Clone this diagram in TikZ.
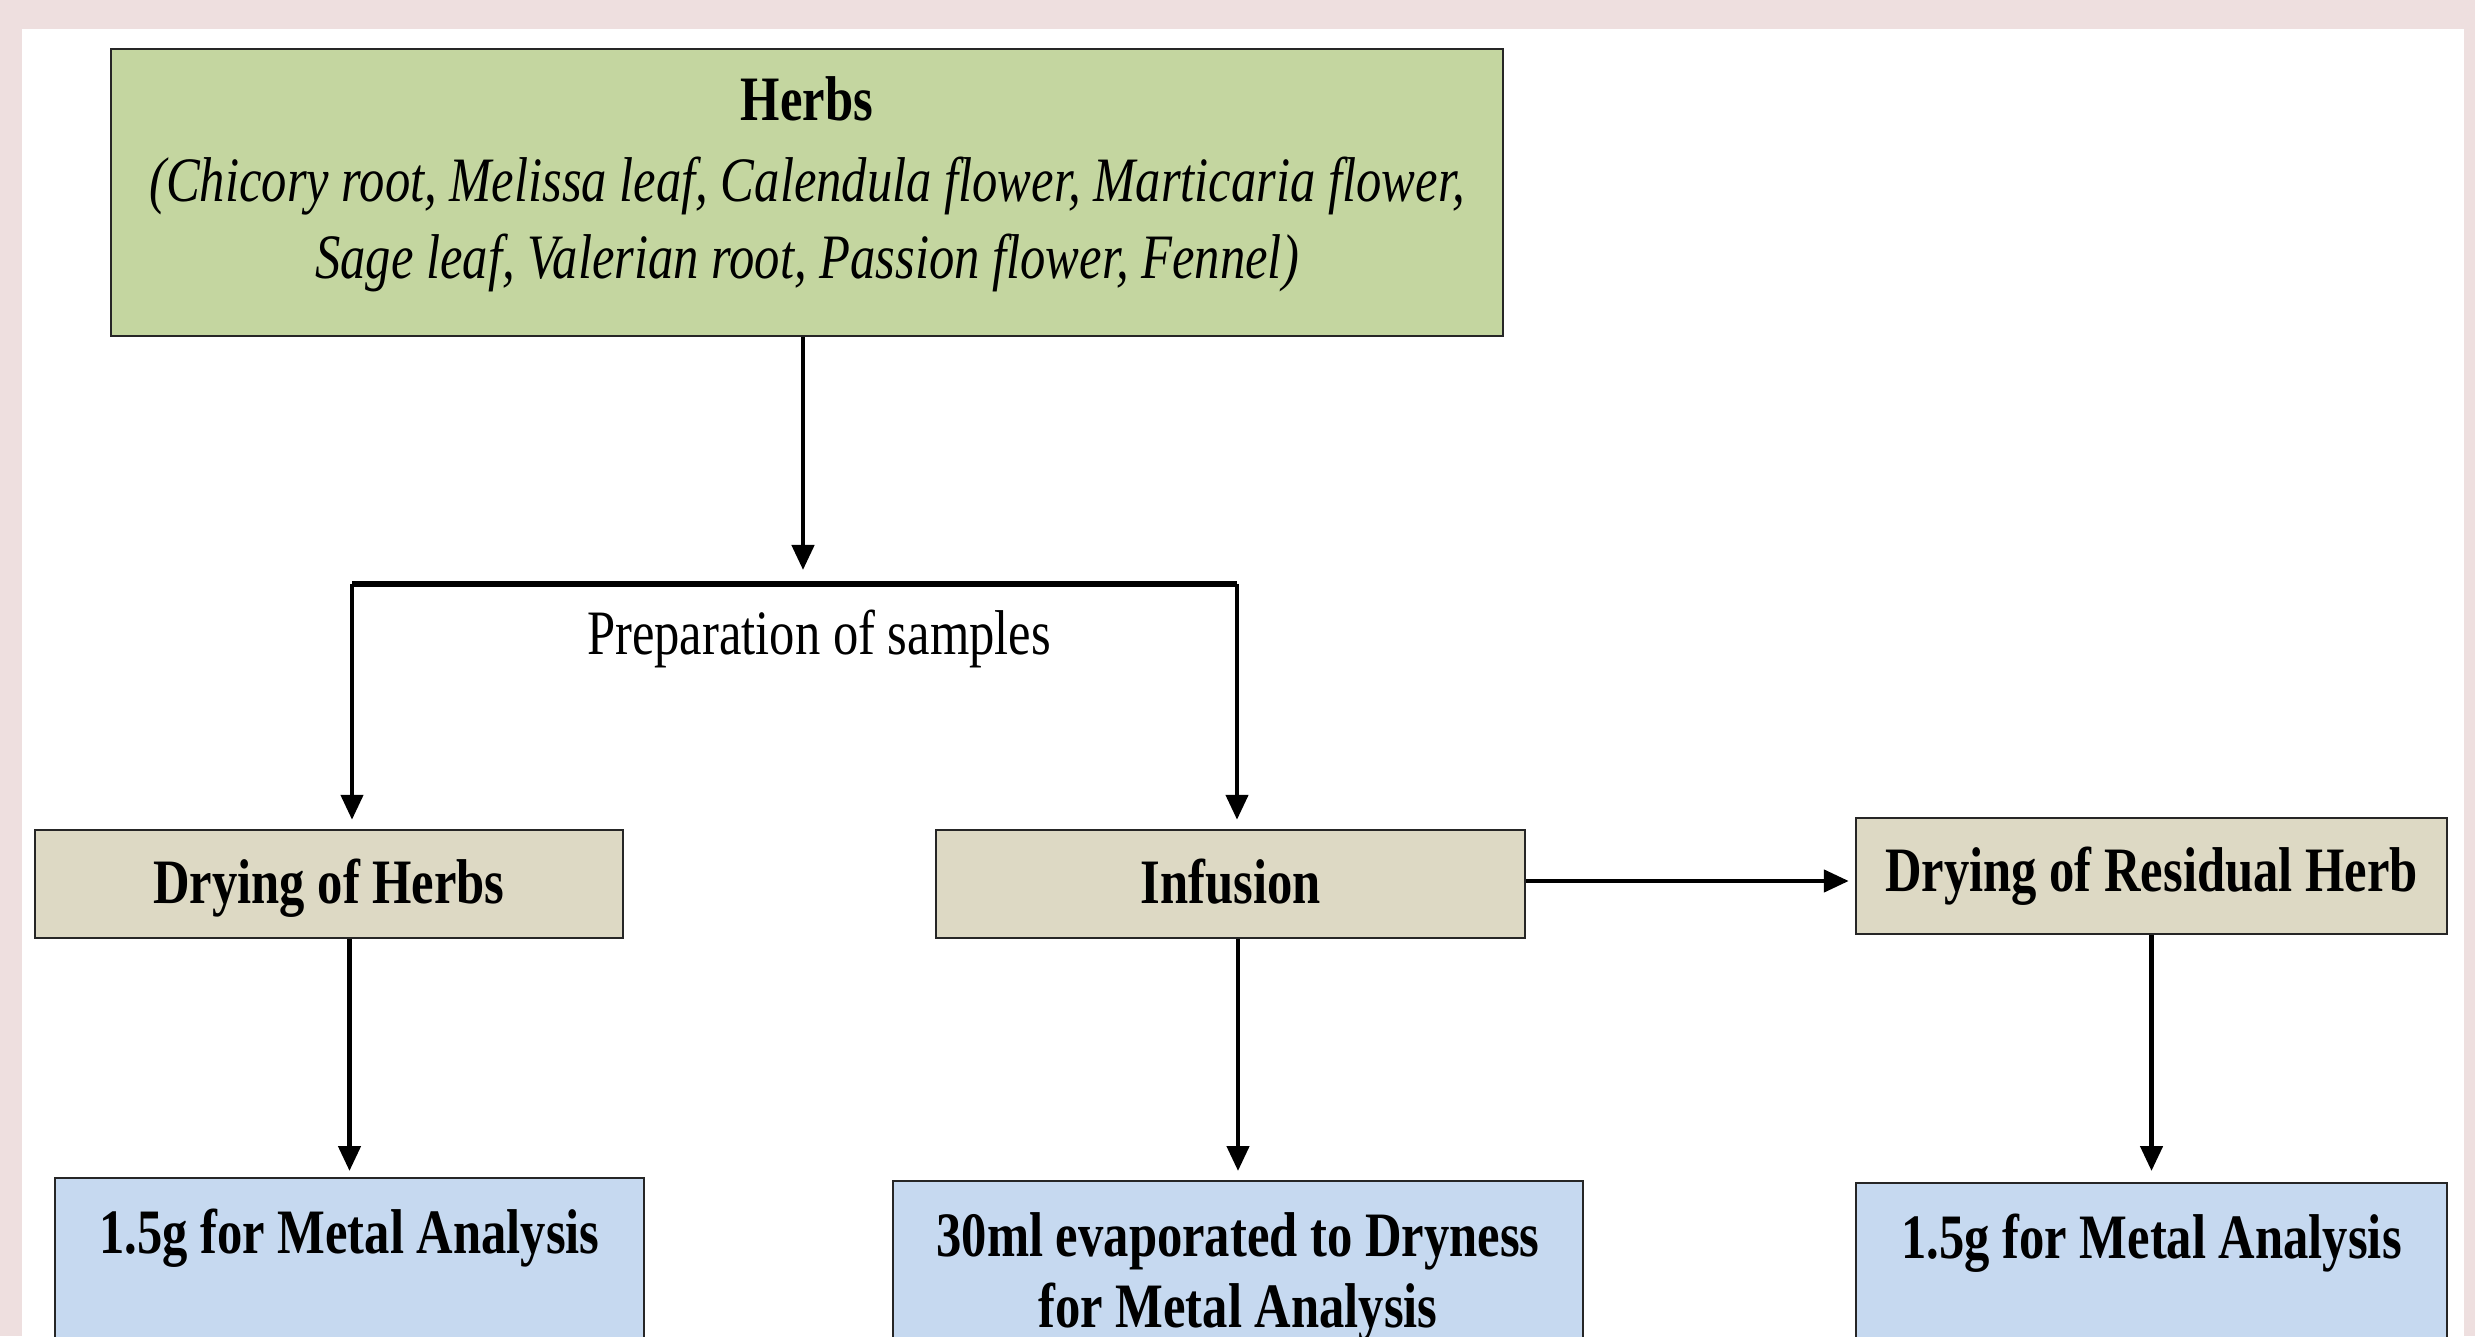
\documentclass[tikz,border=0pt]{standalone}
\usepackage{fontspec}
\usepackage{tikz}
\usetikzlibrary{arrows.meta}

\newfontfamily\narrowserif{Liberation Serif}[FakeStretch=0.8]
\definecolor{pinkbg}{RGB}{238,223,223}
\definecolor{herbgreen}{RGB}{196,214,160}
\definecolor{stagetan}{RGB}{221,217,196}
\definecolor{resultblue}{RGB}{198,217,240}

\begin{document}
\begin{tikzpicture}
        \tikzstyle{herb box}=[draw=black!85,line width=0.7pt,fill=herbgreen,minimum width=13.92cm,minimum height=2.87cm,align=center,font=\narrowserif\fontsize{18}{21.9}\selectfont]
        \tikzstyle{stage box}=[draw=black!85,line width=0.7pt,fill=stagetan,minimum height=1.08cm,inner sep=0pt,text height=0.5cm,text depth=0.12cm,font=\narrowserif\bfseries\fontsize{18}{21}\selectfont]
        \tikzstyle{result box}=[draw=black!85,line width=0.7pt,fill=resultblue,anchor=north,inner xsep=0pt,inner ysep=0.15cm,text height=0.6cm,text depth=2.2cm,font=\narrowserif\bfseries\fontsize{18}{20.2}\selectfont]
        \tikzstyle{arrow}=[-{Triangle[length=2.5mm,width=2.2mm]},line width=1.3pt]

        \useasboundingbox (0,0) rectangle (24.75,13.36);
        \clip (0,0) rectangle (24.75,13.36);
        \fill[pinkbg] (0,0) rectangle (24.75,13.36);
        \fill[white] (0.22,0) rectangle (24.64,13.07);

        \node[herb box] (herbs) at (8.07,11.435) {\textbf{Herbs}\\[1.4pt]
            \textit{(Chicory root, Melissa leaf, Calendula flower, Marticaria flower,}\\
            \textit{Sage leaf, Valerian root, Passion flower, Fennel)}\rule[-0.3cm]{0pt}{0pt}};

        \coordinate (split) at (8.03,7.52);
        \coordinate (splitL) at (3.52,7.52);
        \coordinate (splitR) at (12.37,7.52);
        \node[font=\narrowserif\fontsize{18}{21}\selectfont] (prep) at (8.19,6.97) {Preparation of samples};

        \node[stage box,minimum width=5.88cm] (dry) at (3.29,4.52) {Drying of Herbs};
        \node[stage box,minimum width=5.89cm] (infusion) at (12.305,4.52) {Infusion};
        \node[stage box,minimum width=5.91cm,minimum height=1.16cm,text depth=0.2cm] (residual) at (21.515,4.60) {Drying of Residual Herb};

        \node[result box,minimum width=5.89cm] (res1) at (3.495,1.59) {1.5g for Metal Analysis};
        \node[result box,minimum width=6.90cm] (res2) at (12.38,1.56) {\begin{tabular}[t]{@{}c@{}}30ml evaporated to Dryness\\ for Metal Analysis\end{tabular}};
        \node[result box,minimum width=5.91cm] (res3) at (21.515,1.54) {1.5g for Metal Analysis};

        \draw[arrow,shorten >=1.4mm] (split |- herbs.south) -- (split);
        \draw[line width=1.7pt] (splitL) -- (splitR);
        \draw[arrow,shorten >=0.9mm] (splitL) -- (splitL |- dry.north);
        \draw[arrow,shorten >=0.9mm] (splitR) -- (splitR |- infusion.north);
        \draw[arrow,shorten >=0.6mm] ([yshift=0.03cm]infusion.east) -- ([yshift=0.03cm]infusion.east -| residual.west);
        \draw[arrow,shorten >=0.6mm] (res1.north |- dry.south) -- (res1.north);
        \draw[arrow,shorten >=0.9mm] (res2.north |- infusion.south) -- (res2.north);
        \draw[arrow,shorten >=1.1mm] (residual.south) -- (res3.north);
    \end{tikzpicture}
\end{document}
